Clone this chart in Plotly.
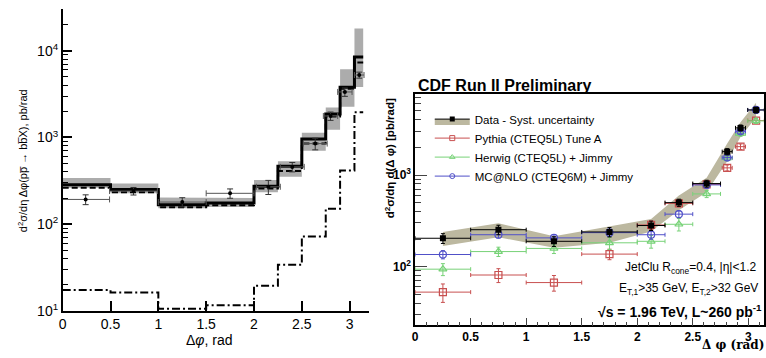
import math
import plotly.graph_objects as go

W, H = 766, 358

# ---------------- left panel: d2sigma/deta dphi for b-bbar ----------------
edges_l = [0.0, 0.5, 1.0, 1.5, 2.0, 2.25, 2.5, 2.75, 2.9, 3.05, math.pi]
nlo_total = [285, 252, 168, 175, 273, 466, 958, 1860, 3800, 8500]
nlo_alt = [264, 233, 157, 165, 258, 410, 852, 1740, 3640, 7330]
lo_only = [17.4, 16.3, 10.6, 11.6, 19.5, 34, 72, 151, 415, 1950]
band_hi_l = [341, 294, 203, 200, 324, 531, 1135, 2213, 6140, 18100]
band_lo_l = [263, 227, 153, 158, 233, 353, 701, 1230, 2254, 3820]

meas_x = [0.24, 0.74, 1.25, 1.75, 2.15, 2.40, 2.64, 2.80, 2.95, 3.10]
meas_y = [193, 241, 180, 227, 270, 458, 850, 1770, 3350, 5250]
meas_err = [25, 24, 22, 28, 50, 57, 130, 195, 370, 420]
meas_xerr = [0.25, 0.25, 0.25, 0.25, 0.125, 0.125, 0.125, 0.075, 0.075, 0.05]

# ---------------- right panel: CDF Run II comparison ----------------
x_r = [0.25, 0.75, 1.25, 1.75, 2.125, 2.375, 2.625, 2.81, 2.93, 3.07]
xerr_r = [0.25, 0.25, 0.25, 0.25, 0.125, 0.125, 0.125, 0.045, 0.045, 0.075]
data_r = [204, 253, 189, 239, 281, 500, 807, 1800, 3270, 5130]
data_err = [25, 30, 23, 28, 33, 45, 70, 140, 250, 380]
syst_up = [239, 298, 214, 273, 331, 597, 935, 2210, 3770, 6160]
syst_lo = [168, 209, 161, 182, 242, 413, 647, 1410, 2600, 4270]
pythia = [52.7, 81, 67, 137, 285, 490, 790, 1197, 2040, 3930]
pythia_err = [12, 14, 13, 18, 30, 40, 60, 90, 140, 250]
herwig = [93.8, 146, 158, 182, 189, 290, 622, 1530, 2820, 3900]
herwig_err = [14, 17, 19, 28, 30, 45, 55, 100, 180, 250]
mcnlo = [135.6, 223, 206, 235, 223, 374, 780, 1550, 3000, 5130]
mcnlo_err = [14, 18, 17, 22, 24, 32, 55, 100, 180, 300]

C_PYTHIA = "rgb(200,80,80)"
C_HERWIG = "rgb(120,210,120)"
C_MCNLO = "rgb(80,80,200)"
C_SYST = "rgb(188,184,160)"

FONT = "Liberation Sans, Arial, sans-serif"


def px_x(p):
    return p / W


def px_y(p):
    return 1 - p / H


def step_xy(edges, vals):
    return list(edges), list(vals) + [vals[-1]]


def band_poly(edges, hi, lo):
    xs, ys = [], []
    for i in range(len(hi)):
        xs += [edges[i], edges[i + 1]]
        ys += [hi[i], hi[i]]
    for i in reversed(range(len(lo))):
        xs += [edges[i + 1], edges[i]]
        ys += [lo[i], lo[i]]
    xs.append(xs[0])
    ys.append(ys[0])
    return xs, ys


fig = go.Figure()

# left: gray uncertainty band
bx, by = band_poly(edges_l, band_hi_l, band_lo_l)
fig.add_trace(go.Scatter(x=bx, y=by, fill="toself", fillcolor="rgb(172,172,172)",
                         line=dict(width=0), mode="lines", hoverinfo="skip",
                         showlegend=False, xaxis="x", yaxis="y"))
for vals, width, dash in [(nlo_total, 3, "solid"),
                          (nlo_alt, 2, "6px,3px"),
                          (lo_only, 2, "8px,3px,2px,3px")]:
    sx, sy = step_xy(edges_l, vals)
    fig.add_trace(go.Scatter(x=sx, y=sy, mode="lines", line_shape="hv",
                             line=dict(color="black", width=width, dash=dash),
                             showlegend=False, xaxis="x", yaxis="y"))
fig.add_trace(go.Scatter(
    x=meas_x, y=meas_y, mode="markers",
    marker=dict(color="black", size=4, symbol="circle"),
    error_y=dict(type="data", array=meas_err, color="#333", thickness=1, width=3),
    error_x=dict(type="data", array=meas_xerr, color="#555", thickness=1, width=3),
    showlegend=False, xaxis="x", yaxis="y"))

# right: systematic band of the data
rx = x_r + x_r[::-1] + [x_r[0]]
ry = syst_up + syst_lo[::-1] + [syst_up[0]]
fig.add_trace(go.Scatter(x=rx, y=ry, fill="toself", fillcolor=C_SYST,
                         line=dict(width=0), mode="lines", hoverinfo="skip",
                         showlegend=False, xaxis="x2", yaxis="y2"))

for vals, errs, color, sym in [
    (pythia, pythia_err, C_PYTHIA, "square-open"),
    (herwig, herwig_err, C_HERWIG, "triangle-up-open"),
    (mcnlo, mcnlo_err, C_MCNLO, "circle-open"),
]:
    fig.add_trace(go.Scatter(
        x=x_r, y=vals, mode="markers",
        marker=dict(color=color, size=7, symbol=sym, line=dict(width=1.2, color=color)),
        error_y=dict(type="data", array=errs, color=color, thickness=1, width=2),
        error_x=dict(type="data", array=xerr_r, color=color, thickness=1, width=2),
        showlegend=False, xaxis="x2", yaxis="y2"))

fig.add_trace(go.Scatter(
    x=x_r, y=data_r, mode="markers",
    marker=dict(color="black", size=6, symbol="square"),
    error_y=dict(type="data", array=data_err, color="black", thickness=1, width=2),
    error_x=dict(type="data", array=xerr_r, color="black", thickness=1, width=2),
    showlegend=False, xaxis="x2", yaxis="y2"))

# legend entries
fig.add_trace(go.Scatter(x=[None], y=[None], mode="lines+markers", fill="toself",
                         fillcolor=C_SYST, line=dict(color="black", width=1),
                         marker=dict(color="black", size=5, symbol="square"),
                         name="Data - Syst. uncertainty", xaxis="x2", yaxis="y2"))
for color, sym, name in [
    (C_PYTHIA, "square-open", "Pythia (CTEQ5L) Tune A"),
    (C_HERWIG, "triangle-up-open", "Herwig (CTEQ5L) + Jimmy"),
    (C_MCNLO, "circle-open", "MC@NLO (CTEQ6M) + Jimmy"),
]:
    fig.add_trace(go.Scatter(x=[None], y=[None], mode="lines+markers",
                             line=dict(color=color, width=1),
                             marker=dict(color=color, size=5, symbol=sym,
                                         line=dict(width=1, color=color)),
                             name=name, xaxis="x2", yaxis="y2"))


def minor_vals(lo_dec, hi_dec):
    return [k * 10 ** d for d in range(lo_dec, hi_dec) for k in range(2, 10)]


fig.update_layout(
    width=W, height=H, margin=dict(l=0, r=0, t=0, b=0),
    plot_bgcolor="white", paper_bgcolor="white",
    font=dict(family=FONT, color="black"),
    xaxis=dict(domain=[px_x(59), px_x(366.7)], range=[0, 3.2],
               showline=True, linecolor="black", linewidth=1.5,
               ticks="inside", ticklen=10, tickwidth=1.5, tickcolor="black",
               tickvals=[0, 0.5, 1, 1.5, 2, 2.5, 3],
               ticktext=["0", "0.5", "1", "1.5", "2", "2.5", "3"],
               tickfont=dict(size=14), showgrid=False, zeroline=False,
               anchor="y"),
    yaxis=dict(domain=[px_y(318), px_y(9)], type="log", range=[1, 4.484],
               showline=True, linecolor="black", linewidth=1.5,
               ticks="inside", ticklen=10, tickwidth=1.5, tickcolor="black",
               tickvals=[10, 100, 1000, 10000],
               ticktext=["10<sup>1</sup>", "10<sup>2</sup>", "10<sup>3</sup>", "10<sup>4</sup>"],
               tickfont=dict(size=14), showgrid=False, zeroline=False,
               minor=dict(ticks="inside", ticklen=6, tickwidth=1, tickcolor="black",
                          tickvals=minor_vals(1, 5), showgrid=False),
               anchor="x"),
    xaxis2=dict(domain=[px_x(413.3), px_x(764)], range=[0, math.pi],
                showline=True, mirror=True, linecolor="black", linewidth=1.5,
                ticks="inside", ticklen=8, tickwidth=1, tickcolor="#444",
                tickvals=[0, 0.5, 1, 1.5, 2, 2.5, 3],
                ticktext=["<b>0</b>", "<b>0.5</b>", "<b>1</b>", "<b>1.5</b>",
                          "<b>2</b>", "<b>2.5</b>", "<b>3</b>"],
                tickfont=dict(size=12), showgrid=False, zeroline=False,
                minor=dict(ticks="inside", ticklen=4, tickwidth=1, tickcolor="#444",
                           dtick=0.1, showgrid=False),
                anchor="y2"),
    yaxis2=dict(domain=[px_y(332.7), px_y(96)], type="log", range=[1.36, 3.886],
                showline=True, mirror=True, linecolor="black", linewidth=1.5,
                ticks="inside", ticklen=12, tickwidth=1, tickcolor="#444",
                tickvals=[100, 1000],
                ticktext=["<b>10<sup>2</sup></b>", "<b>10<sup>3</sup></b>"],
                tickfont=dict(size=12), showgrid=False, zeroline=False,
                minor=dict(ticks="inside", ticklen=6, tickwidth=1, tickcolor="#444",
                           tickvals=minor_vals(1, 4), showgrid=False),
                anchor="x2"),
    legend=dict(x=px_x(428), y=px_y(107), xanchor="left", yanchor="top",
                bgcolor="rgba(0,0,0,0)", borderwidth=0, itemwidth=35,
                font=dict(size=11.5, family=FONT), tracegroupgap=0),
    showlegend=True,
)

ann = []
# left axis titles
ann.append(dict(text="d<sup>2</sup>σ/dη Δφ(pp\u0305 → bb\u0305X), pb/rad",
                x=px_x(19), y=px_y(164), textangle=-90, showarrow=False,
                font=dict(size=11), xanchor="center", yanchor="middle"))
ann.append(dict(text="Δ<i>φ</i>, rad", x=px_x(207), y=px_y(348), showarrow=False,
                font=dict(size=14), xanchor="center", yanchor="middle"))
# right panel texts
ann.append(dict(text="<b>CDF Run II Preliminary</b>", x=px_x(414), y=px_y(87),
                showarrow=False, font=dict(size=16), xanchor="left", yanchor="middle"))
ann.append(dict(text="<b>d<sup>2</sup>σ/dη d(Δ φ) [pb/rad]</b>", x=px_x(388), y=px_y(162),
                textangle=-90, showarrow=False, font=dict(size=11.5),
                xanchor="center", yanchor="middle"))
ann.append(dict(text="<b>Δ φ (rad)</b>", x=px_x(766), y=px_y(353), showarrow=False,
                font=dict(size=12, family="DejaVu Serif, serif"), xanchor="right", yanchor="middle"))
ann.append(dict(text="JetClu R<sub>cone</sub>=0.4, |η|<1.2", x=px_x(758), y=px_y(274),
                showarrow=False, font=dict(size=12), xanchor="right", yanchor="middle"))
ann.append(dict(text="E<sub>T,1</sub>>35 GeV, E<sub>T,2</sub>>32 GeV", x=px_x(760), y=px_y(296),
                showarrow=False, font=dict(size=12), xanchor="right", yanchor="middle"))
ann.append(dict(text="<b>√s = 1.96 TeV, L~260 pb<sup>-1</sup></b>", x=px_x(764), y=px_y(318),
                showarrow=False, font=dict(size=14), xanchor="right", yanchor="middle"))
for a in ann:
    a["xref"] = "paper"
    a["yref"] = "paper"
fig.update_layout(annotations=ann)

fig.write_html("out.html")
